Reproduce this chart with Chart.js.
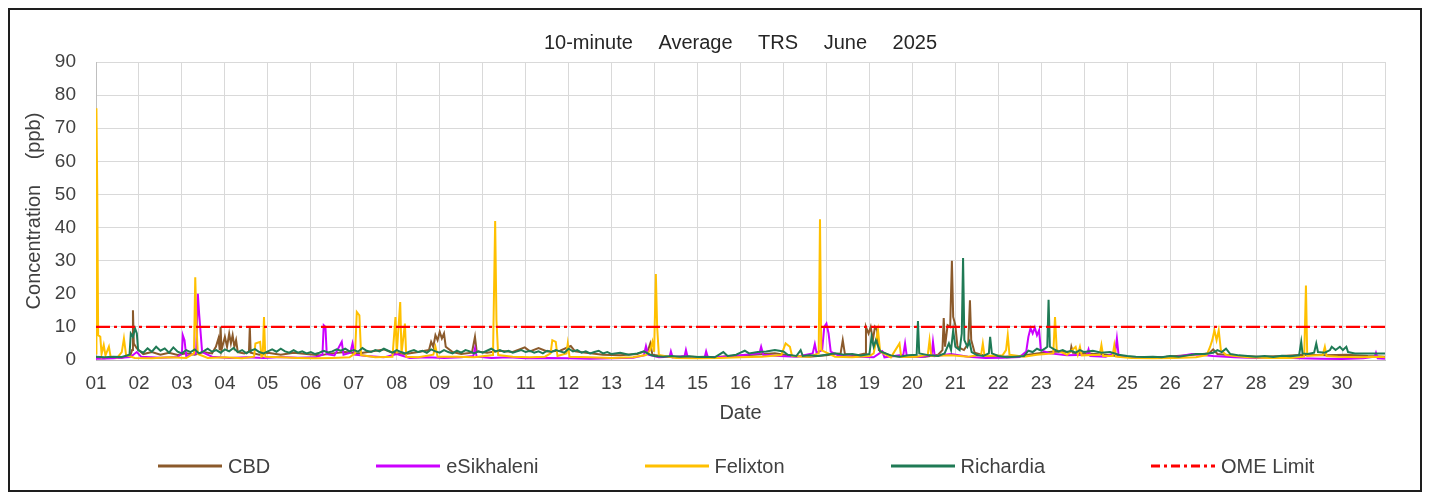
<!DOCTYPE html>
<html>
<head>
<meta charset="utf-8">
<title>10-minute Average TRS June 2025</title>
<script src="https://cdn.jsdelivr.net/npm/chart.js@4.4.1/dist/chart.umd.min.js"></script>
<style>
  body { margin: 0; background: #fff; font-family: "Liberation Sans", Arial, sans-serif; }
  #frame { position: absolute; left: 8px; top: 8px; width: 1410px; height: 480px; border: 2px solid #1e1e1e; background: #fff; }
  #chart { position: absolute; left: 0; top: 0; }
  #legend { position: absolute; left: 148px; top: 446px; height: 20px; display: flex; gap: 106px; align-items: center; font-size: 20px; line-height: 20px; color: #404040; }
  .item { display: flex; align-items: center; gap: 6px; white-space: nowrap; }
</style>
</head>
<body>
<div id="frame">
  <canvas id="chart" width="1410" height="480"></canvas>
  <div id="legend"></div>
</div>
<script>
// day of June (1 = 01 Jun 00:00), TRS in ppb
const cbd = [
  [1.0,0.6],[1.2,0.5],[1.4,0.8],[1.6,0.7],[1.8,1.4],[1.84,3],[1.86,15],[1.88,5],[1.95,3.5],[2.1,1.8],[2.3,2.4],[2.5,1.6],[2.7,2.2],[2.9,1.5],
  [3.1,2.0],[3.3,1.6],[3.5,2.4],[3.7,2.0],[3.79,4],[3.85,6.5],[3.88,3],[3.9,10],[3.92,3],[4.0,7],[4.05,4],[4.1,8],[4.14,5],[4.18,7.5],[4.22,4],
  [4.26,6],[4.3,2.4],[4.45,2],[4.56,2.5],[4.58,10],[4.6,2.2],[4.8,1.6],[5.0,2.2],[5.3,1.6],[5.6,2.2],[5.9,1.8],[6.2,1.4],[6.5,2.0],[6.8,2.4],
  [7.1,2.0],[7.4,2.6],[7.7,3.2],[7.9,2.2],[8.2,1.8],[8.5,2.4],[8.75,3],[8.8,5.5],[8.85,4],[8.9,7.5],[8.95,6],[9.0,8.5],[9.05,6.5],[9.1,8],
  [9.14,4],[9.3,2.4],[9.5,1.8],[9.75,2.2],[9.82,7],[9.86,2.6],[10.1,2.2],[10.4,2.8],[10.7,2.4],[10.98,3.8],[11.1,2.6],[11.3,3.6],[11.5,2.6],
  [11.8,2.8],[12.05,4.2],[12.15,2.6],[12.4,2.2],[12.8,1.6],[13.2,1.4],[13.6,1.8],[13.85,3],[13.9,5],[13.95,1.6],[14.3,0.9],[14.8,1.0],
  [15.3,0.8],[15.8,1.2],[16.3,1.6],[16.8,2.0],[17.2,1.2],[17.6,1.0],[18.0,1.4],[18.33,2],[18.38,6],[18.43,1.8],[18.7,1.4],[18.9,2],[18.92,10],
  [18.98,8],[19.03,10],[19.08,6],[19.13,10],[19.18,9],[19.22,3],[19.5,1.2],[19.9,0.9],[20.3,1.0],[20.6,1.6],[20.7,3],[20.73,12.7],[20.76,4],
  [20.82,10.5],[20.88,10],[20.92,30],[20.95,13],[21.0,10.5],[21.05,4],[21.2,3],[21.3,5],[21.34,18],[21.37,6],[21.45,2.2],[21.7,1.2],
  [22.1,1.0],[22.5,1.2],[22.9,2.0],[23.3,2.6],[23.68,2.4],[23.7,4],[23.74,2.2],[24.1,2.0],[24.5,1.6],[24.9,1.0],[25.4,0.8],[25.9,1.0],
  [26.4,1.4],[26.9,2.0],[27.0,3.2],[27.1,1.8],[27.6,1.2],[28.1,1.0],[28.6,1.2],[29.1,1.6],[29.6,1.4],[30.1,1.6],[30.6,1.2],[31.0,1.0]
];

const esikhaleni = [
  [1.0,0.4],[1.4,0.5],[1.8,0.9],[1.95,2.4],[2.05,1.0],[2.5,0.7],[2.9,0.9],[3.0,2],[3.02,7.5],[3.06,6],[3.1,1.2],[3.33,2],[3.37,20],[3.4,14],
  [3.43,9],[3.47,2.4],[3.7,1.0],[4.1,0.6],[4.5,0.8],[4.9,0.6],[5.3,0.9],[5.7,0.7],[6.1,0.8],[6.27,1.6],[6.3,10.5],[6.34,10],[6.37,1.8],
  [6.55,1.4],[6.68,4.5],[6.72,5.5],[6.76,1.6],[6.92,2.2],[6.97,5],[7.02,1.6],[7.3,1.2],[7.7,0.8],[8.0,1.8],[8.3,0.6],[8.7,0.8],[9.1,0.6],
  [9.5,0.8],[9.78,1.2],[9.82,3.5],[9.86,1.0],[10.2,0.6],[10.6,0.8],[11.0,0.5],[11.5,0.6],[12.0,0.5],[12.5,0.4],[13.0,0.5],[13.5,0.7],
  [13.75,1.4],[13.8,4.2],[13.85,1.6],[14.1,0.8],[14.35,1.0],[14.38,2.6],[14.42,0.8],[14.7,1.2],[14.73,3],[14.77,0.8],[15.17,1.0],[15.2,2.6],
  [15.24,0.8],[15.6,1.0],[16.0,1.4],[16.44,2.0],[16.48,4],[16.53,1.6],[16.9,1.2],[17.3,1.0],[17.68,2],[17.73,4.8],[17.77,2.2],[17.9,3],
  [17.95,10],[18.0,11],[18.05,8],[18.1,2.5],[18.3,1.2],[18.7,1.0],[19.1,0.8],[19.3,2.6],[19.35,0.8],[19.79,1.6],[19.83,5],[19.87,1.2],
  [20.2,0.9],[20.45,1.6],[20.48,5.5],[20.52,1.2],[20.9,1.8],[21.3,1.0],[21.7,0.6],[22.1,0.7],[22.5,0.9],[22.65,2.6],[22.7,7],[22.75,9.6],
  [22.8,8],[22.85,9.8],[22.9,7.5],[22.95,9],[22.99,3],[23.2,2.0],[23.6,1.4],[24.06,1.6],[24.1,3.2],[24.14,1.2],[24.5,1.0],[24.72,2.2],
  [24.76,6.5],[24.8,1.4],[25.1,0.8],[25.6,0.6],[26.1,0.8],[26.5,1.8],[27.0,1.2],[27.5,0.8],[28.0,0.6],[28.5,0.8],[29.0,0.5],[29.5,0.4],
  [30.0,0.3],[30.5,0.5],[30.76,1],[30.79,2.2],[30.83,0.5],[31.0,0.4]
];

const felixton = [
  [1.0,2],[1.01,76],[1.03,50],[1.05,7.5],[1.1,7],[1.13,1.8],[1.18,4.5],[1.22,1.4],[1.3,4],[1.34,1.0],[1.5,0.8],[1.6,2.4],[1.65,6.5],[1.7,1.5],
  [1.9,0.6],[2.3,0.5],[2.7,0.8],[3.1,0.6],[3.28,2],[3.31,25],[3.34,10],[3.37,1.8],[3.6,0.6],[4.0,0.8],[4.4,0.5],[4.68,1],[4.71,5],[4.82,5.5],
  [4.85,1],[4.88,1.2],[4.91,13],[4.94,1],[5.3,0.8],[5.7,0.6],[6.1,0.5],[6.5,0.6],[6.9,0.8],[7.03,2],[7.07,14.5],[7.13,13.5],[7.17,1.5],
  [7.5,0.8],[7.9,1],[7.97,13],[8.0,2],[8.08,17.5],[8.11,2],[8.19,11],[8.22,1],[8.5,0.8],[8.85,1.6],[8.9,4],[8.95,1.0],[9.4,1.0],[9.8,0.8],
  [10.24,1.5],[10.29,42],[10.32,12],[10.36,1.5],[10.7,1.0],[11.1,0.8],[11.45,1.0],[11.58,2],[11.62,6],[11.7,5.5],[11.74,1.2],[11.95,2],
  [11.98,5],[12.02,1.0],[12.5,0.8],[13.0,0.6],[13.5,0.8],[13.8,1.5],[13.9,3],[13.95,5.5],[13.99,2.5],[14.03,26],[14.06,10],[14.1,1.5],
  [14.5,0.6],[15.0,0.5],[15.5,0.6],[16.0,0.8],[16.5,1.0],[16.95,1.5],[17.05,5],[17.15,4],[17.2,1.2],[17.6,1.0],[17.82,2],[17.85,42.5],
  [17.88,3],[18.2,1.0],[18.6,0.8],[19.0,1.2],[19.1,2],[19.2,9],[19.25,2.5],[19.5,0.8],[19.7,5],[19.74,0.9],[20.1,1.0],[20.36,1.6],[20.4,6],
  [20.44,1.2],[20.9,1.4],[21.3,1.0],[21.6,1.6],[21.64,5],[21.68,1.2],[22.1,1.4],[22.18,3],[22.22,7.5],[22.26,1.6],[22.6,1.0],[22.9,1.6],
  [23.28,2],[23.32,13],[23.36,3],[23.6,1.6],[23.8,4],[23.85,1.6],[23.9,4],[23.94,1.4],[24.36,1.6],[24.4,4.5],[24.44,1.2],[24.66,1.2],
  [24.7,4.5],[24.74,1.0],[25.1,0.6],[25.6,0.5],[26.1,0.6],[26.6,0.8],[26.85,1.5],[26.93,4],[26.98,6],[27.03,9],[27.08,6],[27.13,9],[27.18,3],
  [27.3,1.5],[27.8,0.8],[28.3,0.6],[28.8,0.6],[29.12,1],[29.16,22.5],[29.19,1.2],[29.55,1.5],[29.6,4],[29.64,1.2],[29.9,1.0],[30.4,0.8],
  [30.9,1.0],[31.0,0.8]
];

const richardia = [
  [1.0,1.0],[1.2,0.8],[1.4,1.0],[1.6,0.9],[1.78,1.6],[1.81,8],[1.86,7],[1.91,9.5],[1.95,8],[1.98,3],[2.1,2.2],[2.2,3.5],[2.3,2.5],[2.4,4],
  [2.5,2.8],[2.6,3.5],[2.7,2.2],[2.8,3.8],[2.9,2.5],[3.0,2.0],[3.1,3.0],[3.2,2.4],[3.3,3.2],[3.4,2.0],[3.5,2.6],[3.6,3.4],[3.7,2.5],[3.8,3.0],
  [3.9,2.2],[4.0,3.2],[4.1,2.6],[4.2,3.6],[4.3,2.4],[4.4,3.0],[4.5,2.0],[4.6,2.8],[4.7,3.3],[4.8,2.4],[4.9,2.0],[5.0,2.6],[5.1,3.2],[5.2,2.5],
  [5.3,3.4],[5.4,2.6],[5.5,2.2],[5.6,3.0],[5.7,2.2],[5.8,2.6],[5.9,2.0],[6.0,2.4],[6.1,1.8],[6.2,2.2],[6.3,2.8],[6.4,2.3],[6.5,2.6],[6.6,3.2],
  [6.7,2.8],[6.8,3.4],[6.9,2.6],[7.0,3.0],[7.1,2.5],[7.2,3.6],[7.3,2.8],[7.4,2.4],[7.5,3.0],[7.6,2.6],[7.7,3.4],[7.8,2.8],[7.9,2.2],[8.0,3.0],
  [8.1,2.4],[8.2,2.0],[8.3,2.6],[8.4,3.0],[8.5,2.4],[8.6,2.8],[8.7,2.2],[8.8,3.2],[8.9,2.6],[9.0,2.2],[9.1,3.0],[9.2,2.4],[9.3,2.0],[9.4,2.8],
  [9.5,2.2],[9.6,3.0],[9.7,2.6],[9.8,2.0],[9.9,2.6],[10.0,2.2],[10.1,2.8],[10.2,3.4],[10.3,2.6],[10.4,3.0],[10.5,2.4],[10.6,2.8],[10.7,2.2],
  [10.8,2.6],[10.9,3.0],[11.0,2.4],[11.1,2.8],[11.2,2.2],[11.3,2.6],[11.4,2.0],[11.5,2.8],[11.6,2.4],[11.7,3.0],[11.8,2.6],[11.9,2.2],
  [12.0,3.4],[12.1,2.6],[12.2,3.0],[12.3,2.2],[12.4,2.6],[12.5,2.0],[12.6,2.4],[12.7,2.8],[12.8,2.0],[12.9,2.4],[13.0,1.8],[13.2,2.2],
  [13.4,1.6],[13.6,2.0],[13.75,2.6],[13.9,1.6],[14.0,1.2],[14.2,1.0],[14.4,1.2],[14.6,1.0],[14.8,1.1],[15.0,0.9],[15.2,1.0],[15.4,0.8],
  [15.6,2.4],[15.7,1.2],[15.9,1.6],[16.0,2.2],[16.1,2.8],[16.2,2.0],[16.4,2.4],[16.6,2.6],[16.8,3.0],[17.0,2.6],[17.1,1.6],[17.3,1.2],
  [17.4,3],[17.45,1.2],[17.6,1.4],[17.8,1.2],[18.0,1.6],[18.2,2.0],[18.4,1.6],[18.6,1.8],[18.8,1.4],[19.0,1.8],[19.05,7],[19.1,4],[19.15,6],
  [19.25,2.6],[19.5,1.4],[19.7,1.0],[19.9,1.4],[20.1,1.6],[20.13,11.8],[20.16,2],[20.4,1.4],[20.6,1.2],[20.75,2],[20.85,5],[20.9,3],[20.95,9],
  [21.0,4],[21.1,3],[21.15,8],[21.18,30.8],[21.21,6],[21.28,4],[21.33,5.5],[21.38,2.4],[21.5,1.5],[21.65,1.2],[21.78,2],[21.81,7],[21.85,2],
  [22.0,1.2],[22.2,0.8],[22.4,1.0],[22.6,1.2],[22.7,2.8],[22.8,2.4],[22.9,3.4],[23.0,2.8],[23.1,3.6],[23.14,4],[23.17,18.2],[23.2,4],
  [23.3,3.2],[23.4,2.6],[23.5,3.0],[23.6,2.4],[23.7,2.8],[23.8,2.2],[23.9,3.0],[24.0,2.4],[24.2,2.8],[24.4,2.2],[24.6,2.4],[24.8,1.6],
  [25.0,1.2],[25.2,1.0],[25.4,0.9],[25.6,1.0],[25.8,0.8],[26.0,1.2],[26.2,1.0],[26.4,1.4],[26.6,1.8],[26.8,1.8],[27.0,2.2],[27.1,3.0],
  [27.2,2.4],[27.3,3.4],[27.4,1.8],[27.6,1.4],[27.8,1.2],[28.0,1.0],[28.2,1.2],[28.4,0.9],[28.6,1.3],[28.8,1.1],[29.0,1.4],[29.05,5.5],
  [29.08,2],[29.2,1.8],[29.35,2.2],[29.4,5],[29.44,2.4],[29.6,2.2],[29.72,3],[29.76,4],[29.85,3],[29.95,4],[30.02,3],[30.1,4],[30.14,2.4],
  [30.3,2.0],[30.5,2.0],[30.7,2.0],[31.0,2.0]
];

const omeLimit = 10;
const dayLabels = ['01','02','03','04','05','06','07','08','09','10','11','12','13','14','15',
  '16','17','18','19','20','21','22','23','24','25','26','27','28','29','30'];

const fontFamily = '"Liberation Sans", Arial, sans-serif';
const textColor = '#404040';
Chart.defaults.font.family = fontFamily;

const toPoints = (rows) => rows.map(([x, y]) => ({ x: x, y: y }));

// canvas text in the original has very wide word gaps
const wideWordGaps = {
  id: 'wideWordGaps',
  beforeDraw(chart) { chart.ctx.wordSpacing = '20px'; },
  afterDraw(chart) { chart.ctx.wordSpacing = '0px'; }
};

const lineStyle = { pointRadius: 0, borderWidth: 2, fill: false, tension: 0 };

const chart = new Chart(document.getElementById('chart'), {
  type: 'line',
  data: {
    datasets: [
      { label: 'CBD', data: toPoints(cbd), borderColor: '#8b5a2b', order: 4, ...lineStyle },
      { label: 'eSikhaleni', data: toPoints(esikhaleni), borderColor: '#cc00ff', order: 3, ...lineStyle },
      { label: 'Felixton', data: toPoints(felixton), borderColor: '#ffc000', order: 2, ...lineStyle },
      { label: 'Richardia', data: toPoints(richardia), borderColor: '#1f7a55', order: 1, ...lineStyle },
      { label: 'OME Limit', data: [{ x: 1, y: omeLimit }, { x: 31, y: omeLimit }], borderColor: '#ff0000',
        borderDash: [14, 4, 3, 4], order: 0, pointRadius: 0, borderWidth: 2.2, fill: false }
    ]
  },
  options: {
    responsive: false,
    animation: false,
    devicePixelRatio: 1,
    layout: { padding: { left: 0, right: 35, top: 0, bottom: 50 } },
    plugins: {
      legend: { display: false },
      tooltip: { enabled: false },
      title: {
        display: true,
        text: '10-minute Average TRS June 2025',
        fullSize: false,
        color: '#262626',
        font: { size: 20, weight: 'normal' },
        padding: { top: 21, bottom: 7 }
      }
    },
    scales: {
      x: {
        type: 'linear',
        min: 1,
        max: 31,
        afterFit: (scale) => { scale.height = 80; },
        grid: { color: '#d9d9d9', drawTicks: false },
        border: { color: '#bfbfbf' },
        ticks: {
          stepSize: 1,
          maxTicksLimit: 40,
          autoSkip: false,
          maxRotation: 0,
          padding: 12,
          color: textColor,
          font: { size: 19 },
          callback: (v) => dayLabels[v - 1] || ''
        },
        title: { display: true, text: 'Date', color: textColor, font: { size: 20 }, padding: { top: 0, bottom: 15 } }
      },
      y: {
        min: 0,
        max: 90,
        afterFit: (scale) => { scale.width = 86; },
        grid: { color: '#d9d9d9', drawTicks: false },
        border: { color: '#bfbfbf' },
        ticks: { stepSize: 10, padding: 20, color: textColor, font: { size: 19 } },
        title: { display: true, text: 'Concentration (ppb)', color: textColor, font: { size: 20 }, padding: { top: 12, bottom: 0 } }
      }
    }
  },
  plugins: [wideWordGaps]
});

// legend below the axis, spaced like the original
const legendBox = document.getElementById('legend');
const svgNS = 'http://www.w3.org/2000/svg';
chart.data.datasets.forEach((ds) => {
  const item = document.createElement('div');
  item.className = 'item';
  const svg = document.createElementNS(svgNS, 'svg');
  svg.setAttribute('width', '64');
  svg.setAttribute('height', '10');
  const ln = document.createElementNS(svgNS, 'line');
  ln.setAttribute('x1', '0'); ln.setAttribute('y1', '5');
  ln.setAttribute('x2', '64'); ln.setAttribute('y2', '5');
  ln.setAttribute('stroke', ds.borderColor);
  ln.setAttribute('stroke-width', '3');
  if (ds.borderDash) ln.setAttribute('stroke-dasharray', '9 4 3 4');
  svg.appendChild(ln);
  const label = document.createElement('span');
  label.textContent = ds.label;
  item.appendChild(svg);
  item.appendChild(label);
  legendBox.appendChild(item);
});
</script>
</body>
</html>
